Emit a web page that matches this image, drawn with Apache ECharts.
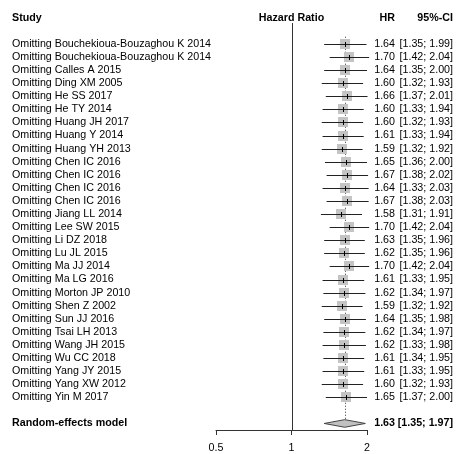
<!DOCTYPE html>
<html><head><meta charset="utf-8">
<script src="https://cdn.jsdelivr.net/npm/echarts@6/dist/echarts.min.js"></script>
<style>html,body{margin:0;padding:0;background:#fff}#c{width:457px;height:454px}</style>
</head><body><div id="c"></div>
<script>
const studies = [
  'Omitting Bouchekioua-Bouzaghou K 2014',
  'Omitting Bouchekioua-Bouzaghou K 2014',
  'Omitting Calles A 2015',
  'Omitting Ding XM 2005',
  'Omitting He SS 2017',
  'Omitting He TY 2014',
  'Omitting Huang JH 2017',
  'Omitting Huang Y 2014',
  'Omitting Huang YH 2013',
  'Omitting Chen IC 2016',
  'Omitting Chen IC 2016',
  'Omitting Chen IC 2016',
  'Omitting Chen IC 2016',
  'Omitting Jiang LL 2014',
  'Omitting Lee SW 2015',
  'Omitting Li DZ 2018',
  'Omitting Lu JL 2015',
  'Omitting Ma JJ 2014',
  'Omitting Ma LG 2016',
  'Omitting Morton JP 2010',
  'Omitting Shen Z 2002',
  'Omitting Sun JJ 2016',
  'Omitting Tsai LH 2013',
  'Omitting Wang JH 2015',
  'Omitting Wu CC 2018',
  'Omitting Yang JY 2015',
  'Omitting Yang XW 2012',
  'Omitting Yin M 2017'
];
const hr    = [1.64,1.70,1.64,1.60,1.66,1.60,1.60,1.61,1.59,1.65,1.67,1.64,1.67,1.58,1.70,1.63,1.62,1.70,1.61,1.62,1.59,1.64,1.62,1.62,1.61,1.61,1.60,1.65];
const lower = [1.35,1.42,1.35,1.32,1.37,1.33,1.32,1.33,1.32,1.36,1.38,1.33,1.38,1.31,1.42,1.35,1.35,1.42,1.33,1.34,1.32,1.35,1.34,1.33,1.34,1.33,1.32,1.37];
const upper = [1.99,2.04,2.00,1.93,2.01,1.94,1.93,1.94,1.92,2.00,2.02,2.03,2.03,1.91,2.04,1.96,1.96,2.04,1.95,1.97,1.92,1.98,1.97,1.98,1.95,1.95,1.93,2.00];
const pooledName = 'Random-effects model';
const pooled = [1.63, 1.35, 1.97];
const headers = ['Study', 'Hazard Ratio', 'HR', '95%-CI'];
const xTicks = [0.5, 1, 2];
const xTickLabels = ['0.5', '1', '2'];

const FONT = '"Liberation Sans", Arial, Helvetica, sans-serif';
const FS = 10.7;
const X_STUDY = 12, X_HR = 395, X_CI = 453;
const Y_MIN = -1.6, Y_MAX = 29.5;
const POOLED_ROW = studies.length + 1;
const fmt = v => v.toFixed(2);
const ciText = (l, u) => '[' + fmt(l) + '; ' + fmt(u) + ']';

function txt(x, y, s, align, bold) {
  return {type: 'text', style: {x: x, y: y, text: s, align: align, verticalAlign: 'middle',
    fontSize: FS, fontFamily: FONT, fontWeight: bold ? 'bold' : 'normal', fill: '#000'}};
}
const crisp = v => Math.round(v) + 0.5;

const chart = echarts.init(document.getElementById('c'), null, {renderer: 'canvas'});
chart.setOption({
  animation: false,
  backgroundColor: '#fff',
  grid: {left: 216, right: 90, top: 23, bottom: 23.5},
  xAxis: {
    type: 'log', logBase: 2, min: xTicks[0], max: xTicks[xTicks.length - 1],
    position: 'bottom',
    axisLine: {onZero: false, lineStyle: {color: '#333', width: 1}},
    axisTick: {length: 5, lineStyle: {color: '#333'}},
    splitLine: {show: false},
    minorTick: {show: false},
    axisLabel: {
      margin: 13, fontSize: FS, fontFamily: FONT, color: '#000',
      formatter: v => { const k = xTicks.findIndex(t => Math.abs(t - v) < 1e-9); return k >= 0 ? xTickLabels[k] : ''; }
    }
  },
  yAxis: {type: 'value', inverse: true, min: Y_MIN, max: Y_MAX, show: false},
  series: [
    {
      type: 'custom', clip: false, z: 1,
      data: [[POOLED_ROW, pooled[0], pooled[1], pooled[2]]],
      renderItem: function (params, api) {
        const row = api.value(0), h = api.value(1), l = api.value(2), u = api.value(3);
        const pc = api.coord([h, row]), pl = api.coord([l, row]), pu = api.coord([u, row]);
        const y = pc[1];
        const half = 3.8;
        const refTop = api.coord([1, Y_MIN]), refBot = api.coord([1, Y_MAX]);
        const dotTop = api.coord([h, -0.55]);
        const hy = api.coord([1, -2])[1];
        return {type: 'group', children: [
          {type: 'line', shape: {x1: crisp(refTop[0]), y1: refTop[1], x2: crisp(refBot[0]), y2: refBot[1]},
           style: {stroke: '#333', lineWidth: 1}},
          {type: 'line', shape: {x1: crisp(pc[0]), y1: dotTop[1], x2: crisp(pc[0]), y2: y - half},
           style: {stroke: '#333', lineWidth: 1, lineDash: [1, 2]}},
          {type: 'polygon', shape: {points: [[pl[0], y], [pc[0], y - half], [pu[0], y], [pc[0], y + half]]},
           style: {fill: '#c0c0c0', stroke: '#444', lineWidth: 1}},
          txt(X_STUDY, y, pooledName, 'left', true),
          txt(X_HR, y, fmt(h), 'right', true),
          txt(X_CI, y, ciText(l, u), 'right', true),
          txt(X_STUDY, hy, headers[0], 'left', true),
          txt(refTop[0], hy, headers[1], 'center', true),
          txt(X_HR, hy, headers[2], 'right', true),
          txt(X_CI, hy, headers[3], 'right', true)
        ]};
      }
    },
    {
      type: 'custom', clip: false, z: 2,
      data: studies.map((s, i) => [i, hr[i], lower[i], upper[i]]),
      renderItem: function (params, api) {
        const i = api.value(0), h = api.value(1), l = api.value(2), u = api.value(3);
        const pc = api.coord([h, i]), pl = api.coord([l, i]), pu = api.coord([u, i]);
        const y = crisp(pc[1]);
        const s = 10;
        return {type: 'group', children: [
          {type: 'rect', shape: {x: Math.round(pc[0] - s / 2), y: Math.round(pc[1] - s / 2), width: s, height: s},
           style: {fill: '#c4c4c4'}},
          {type: 'line', shape: {x1: pl[0], y1: y, x2: pu[0], y2: y}, style: {stroke: '#222', lineWidth: 1}},
          {type: 'line', shape: {x1: crisp(pc[0]), y1: y - 2.5, x2: crisp(pc[0]), y2: y + 2.5},
           style: {stroke: '#000', lineWidth: 1}},
          txt(X_STUDY, pc[1], studies[i], 'left'),
          txt(X_HR, pc[1], fmt(h), 'right'),
          txt(X_CI, pc[1], ciText(l, u), 'right')
        ]};
      }
    }
  ]
});
</script>
</body></html>
